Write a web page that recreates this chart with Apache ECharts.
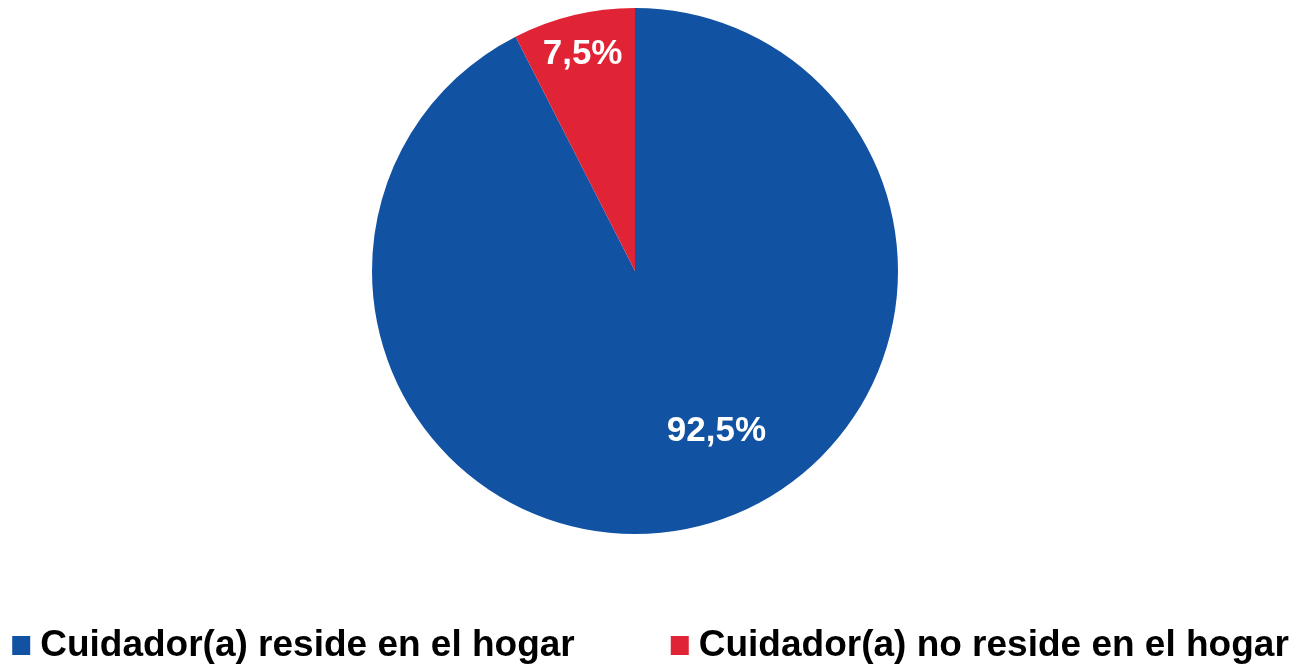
<!DOCTYPE html>
<html>
<head>
<meta charset="utf-8">
<script src="https://cdn.jsdelivr.net/npm/echarts@6/dist/echarts.min.js"></script>
<style>
  html, body { margin: 0; padding: 0; background: #fff; }
  #chart { width: 1301px; height: 669px; }
</style>
</head>
<body>
<div id="chart"></div>
<script>
const categories = ["Cuidador(a) reside en el hogar", "Cuidador(a) no reside en el hogar"];
const values = [92.5, 7.5];
const colors = ["#1152a3", "#e12336"];
// nudges so labels sit where the original puts them
const labelOffsets = [[50, 30], [-21, -86]];

const myChart = echarts.init(document.getElementById("chart"));
myChart.setOption({
  animation: false,
  legend: {
    bottom: 0,
    left: "center",
    icon: "rect",
    itemWidth: 18,
    itemHeight: 19,
    itemGap: 96,
    textStyle: {
      fontFamily: "Liberation Sans, Arial, sans-serif",
      fontWeight: "bold",
      fontSize: 37,
      color: "#000",
      padding: [0, 0, 0, 5],
    },
    data: categories,
  },
  series: [
    {
      type: "pie",
      center: [635, 271],
      radius: [0, 263],
      startAngle: 90,
      clockwise: true,
      labelLine: { show: false },
      data: categories.map((name, i) => ({
        name: name,
        value: values[i],
        itemStyle: { color: colors[i] },
        label: {
          show: true,
          position: "inside",
          offset: labelOffsets[i],
          formatter: (p) => p.value.toFixed(1).replace(".", ",") + "%",
          color: "#fff",
          fontFamily: "Liberation Sans, Arial, sans-serif",
          fontWeight: "bold",
          fontSize: 35,
        },
      })),
    },
  ],
});
</script>
</body>
</html>
